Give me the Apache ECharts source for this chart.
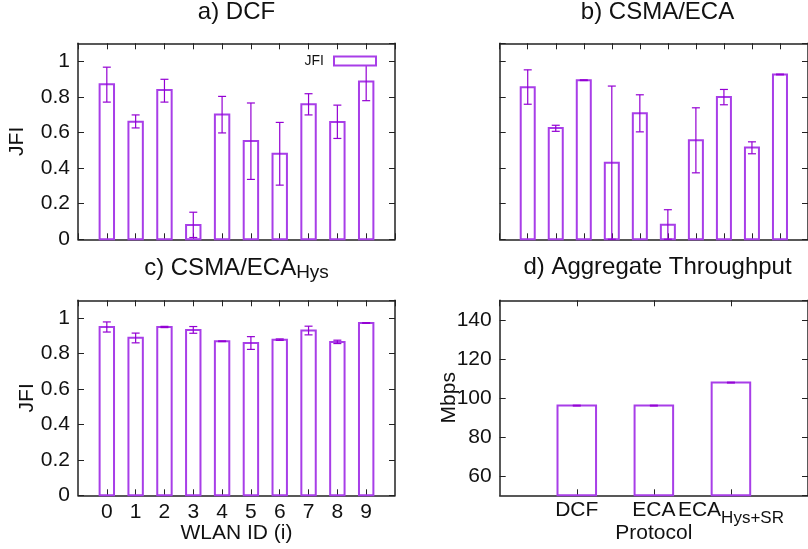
<!DOCTYPE html>
<html>
<head>
<meta charset="utf-8">
<script src="https://cdn.jsdelivr.net/npm/echarts@6/dist/echarts.min.js"></script>
<style>
html,body{margin:0;padding:0;background:#fff;}
#chart{width:808px;height:549px;}
</style>
</head>
<body>
<div id="chart"></div>
<script>
// ---- data ----
const wlanIds = ['0','1','2','3','4','5','6','7','8','9'];
const dcfJfi  = [0.870, 0.660, 0.838, 0.080, 0.700, 0.552, 0.480, 0.758, 0.658, 0.885];
const dcfLow  = [0.770, 0.625, 0.770, 0.010, 0.597, 0.336, 0.304, 0.698, 0.566, 0.778];
const dcfHigh = [0.966, 0.698, 0.898, 0.152, 0.802, 0.765, 0.656, 0.817, 0.753, 0.995];
const ecaJfi  = [0.854, 0.624, 0.893, 0.429, 0.708, 0.082, 0.556, 0.798, 0.515, 0.925];
const ecaLow  = [0.758, 0.606, 0.891, 0.000, 0.603, 0.000, 0.373, 0.755, 0.480, 0.923];
const ecaHigh = [0.951, 0.640, 0.895, 0.860, 0.811, 0.166, 0.738, 0.841, 0.547, 0.927];
const hysJfi  = [0.949, 0.889, 0.950, 0.933, 0.869, 0.859, 0.878, 0.929, 0.865, 0.972];
const hysLow  = [0.921, 0.860, 0.946, 0.914, 0.867, 0.823, 0.874, 0.905, 0.856, 0.970];
const hysHigh = [0.978, 0.915, 0.953, 0.952, 0.871, 0.895, 0.882, 0.954, 0.875, 0.974];
const protocols   = ['DCF', 'ECA', 'ECA_{Hys+SR}'];
const throughput  = [96.0, 96.0, 107.8];
const thrLow      = [95.8, 95.8, 107.6];
const thrHigh     = [96.2, 96.2, 108.0];
const jfiTicks = ['0', '0.2', '0.4', '0.6', '0.8', '1'];

// ---- styles ----
const FONT = 'Liberation Sans, Arial, Helvetica, sans-serif';
const BAR = '#a83ee8';
const ERR = '#9400d3';
const AX = '#222';
const TXT = '#111';

const grids = [
  {left: 78,    top: 43.3,  width: 317, height: 196},
  {left: 499.7, top: 43.3,  width: 316, height: 196},
  {left: 78,    top: 300.3, width: 317, height: 195},
  {left: 499.7, top: 300.3, width: 316, height: 195}
];

function subRich(s) {
  const m = s.match(/^(.*)_\{(.*)\}$/);
  return m ? '{m|' + m[1] + '}{s|' + m[2] + '}' : '{m|' + s + '}';
}

const xAxes = [], yAxes = [];
const axLine = {show: true, onZero: false, lineStyle: {color: AX, width: 1.5}};
const axTick = {show: true, inside: true, length: 6, lineStyle: {color: AX, width: 1}};
for (let g = 0; g < 4; g++) {
  const isThr = g === 3;
  const xmin = isThr ? 0 : -1, xmax = isThr ? 4 : 10;
  const xlab = isThr
    ? (v => (v >= 1 && v <= protocols.length) ? subRich(protocols[v - 1]) : '')
    : (v => (v >= 0 && v < wlanIds.length) ? '{m|' + wlanIds[v] + '}' : '');
  const baseX = {
    gridIndex: g, type: 'value', min: xmin, max: xmax, interval: 1,
    axisLine: axLine, axisTick: axTick, splitLine: {show: false}
  };
  xAxes.push(Object.assign({}, baseX, {
    position: 'bottom',
    axisLabel: {
      show: g >= 2, margin: isThr ? 4 : 6, formatter: xlab, color: TXT, fontFamily: FONT,
      showMinLabel: false, showMaxLabel: false,
      rich: {
        m: {fontSize: 21, fontFamily: FONT, color: TXT, verticalAlign: 'top'},
        s: {fontSize: 17, fontFamily: FONT, color: TXT, verticalAlign: 'top', padding: [11, 0, 0, 0]}
      }
    },
    name: g === 2 ? 'WLAN ID (i)' : (g === 3 ? 'Protocol' : ''),
    nameLocation: 'middle', nameGap: 27, nameMoveOverlap: false,
    nameTextStyle: {fontSize: 21, fontFamily: FONT, color: TXT}
  }));
  xAxes.push(Object.assign({}, baseX, {position: 'top', axisLabel: {show: false}}));

  const baseY = isThr
    ? {gridIndex: g, type: 'value', min: 50, max: 150, splitNumber: 5}
    : {gridIndex: g, type: 'value', min: 0, max: 1.1, interval: 0.2};
  Object.assign(baseY, {axisLine: axLine, axisTick: axTick, splitLine: {show: false}});
  yAxes.push(Object.assign({}, baseY, {
    position: 'left',
    axisLabel: {
      show: g !== 1, margin: 8, fontSize: 21, fontFamily: FONT, color: TXT,
      showMinLabel: isThr ? false : true, showMaxLabel: false,
      formatter: isThr ? (v => String(v)) : (v => {
        const k = Math.round(v * 5);
        return (k >= 0 && k < jfiTicks.length && Math.abs(v * 5 - k) < 1e-6) ? jfiTicks[k] : '';
      })
    },
    name: g === 1 ? '' : (isThr ? 'Mbps' : 'JFI'),
    nameLocation: 'middle', nameGap: g === 0 ? 50 : 40, nameMoveOverlap: false,
    nameTextStyle: {fontSize: 21, fontFamily: FONT, color: TXT}
  }));
  yAxes.push(Object.assign({}, baseY, {position: 'right', axisLabel: {show: false}}));
}

function renderBar(params, api) {
  const x = api.value(0), v = api.value(1);
  const cs = params.coordSys;
  const bottom = cs.y + cs.height;
  const tl = api.coord([x - 0.25, v]);
  const tr = api.coord([x + 0.25, v]);
  return {
    type: 'rect',
    shape: {x: tl[0], y: tl[1], width: tr[0] - tl[0], height: bottom - tl[1]},
    style: {fill: 'none', stroke: BAR, lineWidth: 2}
  };
}
function renderErr(params, api) {
  const x = api.value(0);
  const lo = api.coord([x, api.value(2)]);
  const hi = api.coord([x, api.value(3)]);
  const w = 4;
  const st = {stroke: ERR, lineWidth: 1.2};
  return {
    type: 'group',
    children: [
      {type: 'line', shape: {x1: lo[0], y1: lo[1], x2: hi[0], y2: hi[1]}, style: st},
      {type: 'line', shape: {x1: lo[0] - w, y1: lo[1], x2: lo[0] + w, y2: lo[1]}, style: st},
      {type: 'line', shape: {x1: hi[0] - w, y1: hi[1], x2: hi[0] + w, y2: hi[1]}, style: st}
    ]
  };
}

function rows(xs, v, lo, hi) { return xs.map((_, i) => [i, v[i], lo[i], hi[i]]); }
const panels = [
  {name: 'JFI',    data: rows(wlanIds, dcfJfi, dcfLow, dcfHigh)},
  {name: 'JFI b',  data: rows(wlanIds, ecaJfi, ecaLow, ecaHigh)},
  {name: 'JFI c',  data: rows(wlanIds, hysJfi, hysLow, hysHigh)},
  {name: 'Mbps',   data: protocols.map((_, i) => [i + 1, throughput[i], thrLow[i], thrHigh[i]])}
];
const series = [];
panels.forEach((p, g) => {
  series.push({
    type: 'custom', name: p.name, xAxisIndex: 2 * g, yAxisIndex: 2 * g,
    renderItem: renderBar, data: p.data, silent: true,
    itemStyle: {color: '#fff', borderColor: BAR, borderWidth: 2}
  });
  series.push({
    type: 'custom', name: p.name + ' err', xAxisIndex: 2 * g, yAxisIndex: 2 * g,
    renderItem: renderErr, data: p.data, silent: true, z: 3
  });
});

const titleStyle = {
  fontSize: 24, fontWeight: 'normal', fontFamily: FONT, color: TXT,
  rich: {
    m: {fontSize: 24, fontFamily: FONT, color: TXT},
    s: {fontSize: 19, fontFamily: FONT, color: TXT, padding: [9, 0, 0, 0]}
  }
};
const option = {
  animation: false,
  backgroundColor: '#fff',
  title: [
    {text: 'a) DCF', left: 236.5, top: 0, textAlign: 'center', textStyle: titleStyle, padding: 0},
    {text: 'b) CSMA/ECA', left: 657.5, top: 0, textAlign: 'center', textStyle: titleStyle, padding: 0},
    {text: '{m|c) CSMA/ECA}{s|Hys}', left: 236.5, top: 254, textAlign: 'center', textStyle: titleStyle, padding: 0},
    {text: 'd) Aggregate Throughput', left: 657.5, top: 255, textAlign: 'center', textStyle: titleStyle, padding: 0}
  ],
  legend: {
    data: [{name: 'JFI', icon: 'rect', itemStyle: {color: '#fff', borderColor: BAR, borderWidth: 2}}],
    right: 431, top: 54, padding: 0, itemWidth: 42, itemHeight: 9, align: 'right',
    selectedMode: false,
    textStyle: {fontSize: 14, fontFamily: FONT, color: TXT, padding: [0, 5, 0, 0]}
  },
  grid: grids,
  xAxis: xAxes,
  yAxis: yAxes,
  series: series
};
const chart = echarts.init(document.getElementById('chart'), null, {renderer: 'canvas'});
chart.setOption(option);
</script>
</body>
</html>
